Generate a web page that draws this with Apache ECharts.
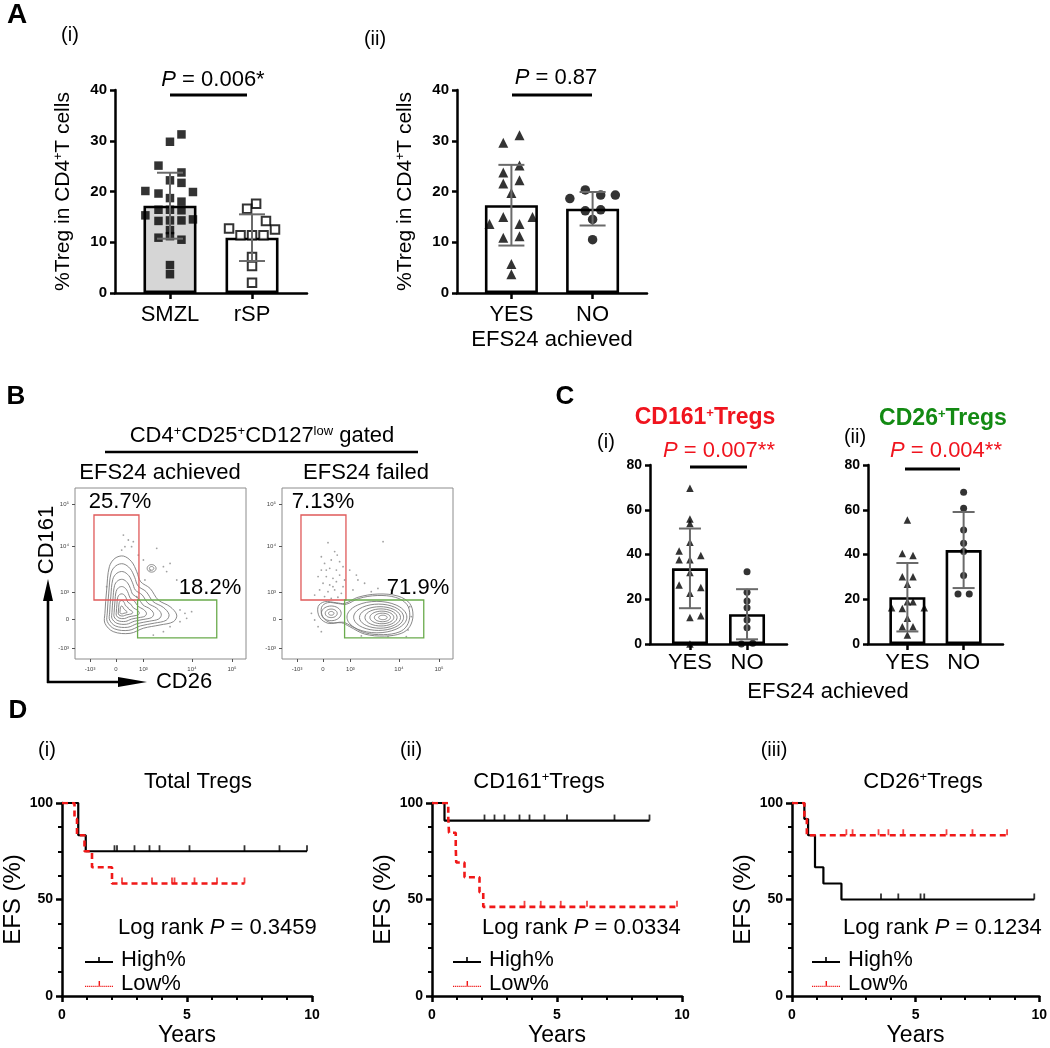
<!DOCTYPE html>
<html><head><meta charset="utf-8">
<script src="https://cdn.jsdelivr.net/npm/echarts@6/dist/echarts.min.js"></script>
<style>html,body{margin:0;padding:0;background:#fff}#c{width:1050px;height:1048px}</style>
</head><body><div id="c"></div>
<script>
// ================= DATA =================
// Panel A(i)
const aCatsI = ['SMZL', 'rSP'];
const aMeanI = [17.2, 10.9];
const aSdI = [6.5, 4.6];
const smzlVals = [31.25, 29.8, 25.1, 23.75, 22.2, 21.7, 20.1, 19.9, 19.6, 18.7, 18.0, 16.4, 16.4, 16.3, 15.3, 14.5, 14.2, 14.3, 14.3, 12.4, 10.9, 11.2, 10.5, 5.5, 3.7];
const smzlJit = [0.14, 0, -0.14, 0.14, 0, 0.14, -0.30, 0.28, -0.14, 0, 0.14, -0.14, 0, 0.14, -0.30, 0.28, -0.14, 0, 0.14, 0, -0.14, 0, 0.14, 0, 0];
const rspVals = [17.6, 16.6, 14.2, 12.7, 12.5, 11.4, 11.4, 11.4, 7.1, 5.3, 2.0];
const rspJit = [0.05, -0.06, 0.17, -0.28, 0.28, -0.14, 0, 0.14, 0, 0, 0];
// Panel A(ii)
const aCatsII = ['YES', 'NO'];
const aMeanII = [17.3, 16.6];
const aSdII = [7.95, 3.3];
const yesAVals = [31.1, 29.6, 25.1, 23.75, 21.6, 22.2, 19.7, 13.6, 15.0, 13.6, 15.0, 10.9, 11.2, 5.7, 3.7];
const yesAJit = [0.10, -0.10, 0.10, -0.10, -0.10, 0.10, 0, -0.27, -0.10, 0.10, 0.26, -0.10, 0.10, 0, 0];
const noAVals = [18.6, 20.3, 19.3, 19.3, 16.2, 16.4, 14.5, 10.5];
const noAJit = [-0.28, -0.09, 0.10, 0.28, -0.09, 0.10, 0, 0];
// Panel C(i) CD161+
const cMeanI = [33.8, 13.3];
const cSdI = [17.8, 11.2];
const cd161Yes = [69.6, 55.9, 53.9, 45.5, 41.6, 37.6, 39.5, 37.6, 32.0, 26.4, 25.2, 22.7, 11.8, 12.6, 0];
const cd161YesJit = [0, 0, 0, 0, -0.19, -0.19, 0.19, 0, 0, -0.19, 0.19, 0, 0, 0.19, 0];
const cd161No = [32.3, 23.1, 19.2, 16.2, 10.7, 7.3, 0, 0.3];
const cd161NoJit = [0, 0, 0, 0, 0, 0, -0.1, 0.1];
// Panel C(ii) CD26+
const cMeanII = [20.9, 42.0];
const cSdII = [15.3, 17.0];
const cd26Yes = [55.4, 40.5, 39.5, 30.1, 30.1, 26.7, 18.9, 16.2, 15.9, 18.9, 16.2, 11.5, 7.7, 7.7, 4.0];
const cd26YesJit = [0, -0.09, 0.10, -0.09, 0.10, 0, 0, -0.28, -0.09, 0.10, 0.30, 0, -0.09, 0.10, 0];
const cd26No = [67.8, 60.7, 51.0, 45.0, 41.3, 30.6, 22.4, 22.4];
const cd26NoJit = [0, 0, 0, 0, 0, 0, -0.10, 0.10];
// Panel B flow (display units 0-100)
const flowXTicks = [8.8, 24, 40, 68.4, 91.8];
const flowYTicks = [6.4, 23.4, 39.2, 66.1, 90.6];
const flowTickLabels = ['-10³', '0', '10³', '10⁴', '10⁵'];
const gates = [[11.1, 34.5, 37.4, 84.2], [36.6, 12.3, 82.9, 34.5]];
const pctLeft = ['25.7%', '18.2%'];
const pctRight = ['7.13%', '71.9%'];
const contourLeftOuter = [[17.5,26.7],[18.5,40.3],[20.1,54.0],[23.4,58.9],[28.3,60.2],[33.1,56.9],[36.1,51.1],[38.4,45.2],[43.9,41.3],[48.7,34.5],[55.6,30.6],[59.5,25.7],[57.5,21.8],[49.7,19.9],[40.0,18.0],[32.2,15.0],[22.4,16.0],[17.5,20.9]];
const contourLeftCenter = [27.3, 27.7];
const contourLeftScales = [1, 0.86, 0.72, 0.58, 0.45, 0.32, 0.2, 0.1];
const contourLeftBlobs = [[44.8, 53.0, 2.6, 2.2], [44.8, 53.0, 1.3, 1.1]];
const contourRightOuter = [[21.1,30.6],[24.9,33.5],[31.8,32.9],[36.7,32.5],[44.4,36.1],[56.1,38.0],[67.8,36.8],[74.7,32.5],[76.6,25.7],[74.7,18.9],[69.8,15.0],[60.0,13.4],[48.3,14.6],[39.6,18.9],[34.7,21.2],[26.9,20.9],[22.0,24.4]];
const contourRightCenter = [50, 25.5];
const contourRightScales = [1, 0.93];
const contourRightBlobs = [[28.8,26.7,5.8,4.3],[28.8,26.7,3.5,2.5],[28.8,26.7,1.6,1.1],
  [55.5,24.5,17.5,9.2],[56.5,24.4,14.6,7.7],[57.3,24.3,12.0,6.3],[57.9,24.3,9.4,5.0],[58.4,24.3,7.0,3.7],[58.7,24.3,4.7,2.5],[59,24.3,2.5,1.3]];
const flowDotsLeft = [[28.3,72.5],[31.2,69.6],[33.1,65.7],[27.3,63.7],[34.1,68.6],[29.2,65.7],[37.0,60.8],[40.0,57.9],[47.8,64.7],[51.7,54.0],[53.6,51.1],[59.5,46.2],[61.4,28.7],[64.3,26.7],[65.3,23.8],[61.4,21.8],[55.6,18.9],[51.7,16.0],[45.8,14.0],[36.1,36.4],[40.9,46.2],[18.5,42.3],[55.6,55.9],[68.2,27.7],[43.9,52.0]];
const flowDotsRight = [[26.9,68.0],[30.8,62.8],[32.3,60.8],[28.8,57.9],[24.9,55.9],[33.7,56.9],[23.0,52.0],[27.9,53.0],[31.8,52.0],[35.7,54.0],[21.1,48.2],[25.9,48.2],[29.8,47.2],[33.7,49.1],[24.0,44.3],[27.9,43.3],[31.8,45.2],[35.7,42.3],[22.0,40.4],[26.9,39.4],[30.8,40.4],[34.7,38.4],[24.9,36.5],[28.8,35.5],[32.7,36.1],[19.1,37.4],[36.6,46.2],[29.8,42.3],[25.9,52.0],[23.0,59.8],[39.6,52.0],[43.5,49.1],[44.4,46.2],[48.3,44.3],[41.5,40.4],[52.2,39.4],[59.1,68.6],[63.9,40.4],[56.1,41.3],[74.7,30.6],[75.6,24.8],[73.7,17.0],[72.7,13.1],[21.1,18.9],[19.1,22.8],[17.2,26.7],[23.0,16.0],[46.4,13.5],[62.0,13.1]];
// Panel D Kaplan-Meier: [years, EFS%]
const kmTotHigh = [[0,100],[0.65,83.3],[0.95,75],[9.8,75]];
const kmTotHighCens = [2.1, 2.2, 2.9, 3.5, 3.9, 5.1, 7.3, 8.7, 9.8];
const kmTotLow = [[0,100],[0.5,91.7],[0.6,83.3],[0.9,75],[1.2,66.7],[2.0,58.3],[7.3,58.3]];
const kmTotLowCens = [2.4, 3.6, 4.4, 4.5, 5.3, 6.2, 7.3];
const kmCd161High = [[0,100],[0.5,90.9],[8.7,90.9]];
const kmCd161HighCens = [2.1, 2.5, 2.9, 3.5, 3.9, 4.5, 5.4, 7.3, 8.7];
const kmCd161Low = [[0,100],[0.65,92.3],[0.68,84.6],[0.95,76.9],[0.97,69.2],[1.3,61.5],[1.9,53.8],[2.05,46.2],[9.8,46.2]];
const kmCd161LowCens = [3.7, 4.35, 5.15, 6.2, 9.8];
const kmCd26High = [[0,100],[0.5,91.7],[0.65,83.3],[0.93,66.7],[1.27,58.3],[2.0,50],[9.8,50]];
const kmCd26HighCens = [3.6, 4.3, 5.2, 5.35, 9.8];
const kmCd26Low = [[0,100],[0.5,91.7],[0.6,83.3],[8.7,83.3]];
const kmCd26LowCens = [2.2, 2.45, 3.5, 3.9, 4.5, 6.25, 7.3, 8.7];

// ================= STYLE =================
const FONT = 'Liberation Sans, Arial, Helvetica, sans-serif';
const RED = '#f0141e', GREEN = '#138a13', KMRED = '#f01818';

function rich(size, color, bold) {
  const w = bold ? 'bold' : 'normal';
  return {
    i: {fontStyle: 'italic', fontSize: size, fontFamily: FONT, color: color, fill: color, fontWeight: w},
    s: {fontSize: Math.round(size * 0.58), fontFamily: FONT, color: color, fill: color, fontWeight: w, verticalAlign: 'top', lineHeight: Math.round(size*0.6)}
  };
}
function txt(x, y, text, size, o) {
  o = o || {};
  const color = o.color || '#000';
  return {type: 'text', x: x, y: y, rotation: o.rot || 0, z: 100,
    style: {text: text, fill: color, fontSize: size, fontFamily: FONT, fontWeight: o.bold ? 'bold' : 'normal',
      align: o.align || 'center', verticalAlign: 'middle', rich: rich(size, color, o.bold)}};
}
function seg(x1, y1, x2, y2, w) {
  return {type: 'line', z: 100, shape: {x1, y1, x2, y2}, style: {stroke: '#000', lineWidth: w || 3}};
}

// ================= GRIDS & AXES =================
const grids = [
  {left: 115, top: 90, width: 192, height: 203},
  {left: 457, top: 90, width: 190, height: 203},
  {left: 75, top: 488, width: 171, height: 171, show: true, borderColor: '#8c8c8c', borderWidth: 1},
  {left: 282, top: 488, width: 171, height: 171, show: true, borderColor: '#8c8c8c', borderWidth: 1},
  {left: 650, top: 465, width: 137, height: 179},
  {left: 868, top: 465, width: 135, height: 179},
  {left: 62, top: 803, width: 250, height: 199},
  {left: 432, top: 803, width: 250, height: 199},
  {left: 792, top: 803, width: 248, height: 199}
];
const lineAx = {show: true, onZero: false, lineStyle: {color: '#000', width: 2.5}};
function catX(gi, cats, lo, hi, fs, margin) {
  return {gridIndex: gi, type: 'value', min: lo, max: hi,
    axisLine: lineAx, splitLine: {show: false},
    axisTick: {show: true, customValues: [0, 1], length: 6, lineStyle: {color: '#000', width: 2.5}},
    axisLabel: {customValues: [0, 1], formatter: v => cats[Math.round(v)], fontSize: fs, color: '#000', fontFamily: FONT, margin: margin}};
}
function valY(gi, max, interval, fs, name, nameGap) {
  return {gridIndex: gi, type: 'value', min: 0, max: max, interval: interval,
    axisLine: lineAx, splitLine: {show: false},
    axisTick: {show: true, length: 5, lineStyle: {color: '#000', width: 2.5}},
    axisLabel: {fontSize: fs, fontWeight: 'bold', color: '#000', fontFamily: FONT, margin: 8},
    name: name || '', nameLocation: 'middle', nameGap: nameGap || 0,
    nameTextStyle: {fontSize: 21, color: '#000', fontFamily: FONT, rich: rich(21, '#000')}};
}
function flowAx(gi, dim) {
  const ticks = dim === 'x' ? flowXTicks : flowYTicks;
  return {gridIndex: gi, type: 'value', min: 0, max: 100,
    axisLine: {show: false}, splitLine: {show: false},
    axisTick: {show: true, customValues: ticks, length: 3, lineStyle: {color: '#555', width: 1}},
    minorTick: {show: false},
    axisLabel: {customValues: ticks, formatter: v => flowTickLabels[ticks.indexOf(v)], fontSize: 6, color: '#444', fontFamily: FONT, margin: dim === 'x' ? 7 : 6}};
}
function kmX(gi) {
  return {gridIndex: gi, type: 'value', min: 0, max: 10, interval: 5,
    axisLine: lineAx, splitLine: {show: false},
    axisTick: {show: true, length: 6, lineStyle: {color: '#000', width: 2.5}},
    minorTick: {show: true, splitNumber: 5, length: 4, lineStyle: {color: '#000', width: 2}},
    axisLabel: {fontSize: 14, fontWeight: 'bold', color: '#000', fontFamily: FONT, margin: 12},
    name: 'Years', nameLocation: 'middle', nameGap: 28, nameTextStyle: {fontSize: 23, color: '#000', fontFamily: FONT}};
}
function kmY(gi) {
  return {gridIndex: gi, type: 'value', min: 0, max: 100, interval: 50,
    axisLine: lineAx, splitLine: {show: false},
    axisTick: {show: true, length: 6, lineStyle: {color: '#000', width: 2.5}},
    minorTick: {show: true, splitNumber: 4, length: 4, lineStyle: {color: '#000', width: 2}},
    axisLabel: {fontSize: 14, fontWeight: 'bold', color: '#000', fontFamily: FONT, margin: 9},
    name: 'EFS (%)', nameLocation: 'middle', nameGap: 33, nameTextStyle: {fontSize: 24, color: '#000', fontFamily: FONT}};
}
const yName = '%Treg in CD4{s|+}T cells';
const xAxes = [
  catX(0, aCatsI, -0.67, 1.67, 22, 11), catX(1, aCatsII, -0.67, 1.67, 22, 11),
  flowAx(2, 'x'), flowAx(3, 'x'),
  catX(4, aCatsII, -0.7, 1.7, 22, 8), catX(5, aCatsII, -0.7, 1.7, 22, 8),
  kmX(6), kmX(7), kmX(8)
];
const yAxes = [
  valY(0, 40, 10, 15, yName, 41), valY(1, 40, 10, 15, yName, 41),
  flowAx(2, 'y'), flowAx(3, 'y'),
  valY(4, 80, 20, 14), valY(5, 80, 20, 14),
  kmY(6), kmY(7), kmY(8)
];

// ================= SERIES BUILDERS =================
const series = [];
function barGroup(gi, means, sds, fills, barW, cap) {
  series.push({type: 'bar', xAxisIndex: gi, yAxisIndex: gi, barWidth: barW, z: 2, silent: true,
    data: means.map((m, i) => ({value: [i, m], itemStyle: {color: fills[i], borderColor: '#000', borderWidth: 2.6}}))});
  series.push({type: 'custom', xAxisIndex: gi, yAxisIndex: gi, z: 4, silent: true,
    data: means.map((m, i) => [i, m, sds[i]]), encode: {x: 0, y: 1},
    renderItem: function (params, api) {
      const x = api.value(0), m = api.value(1), s = api.value(2);
      const p1 = api.coord([x, m + s]), p0 = api.coord([x, m - s]);
      const st = {stroke: '#6a6a6a', lineWidth: 2};
      return {type: 'group', children: [
        {type: 'line', shape: {x1: p1[0], y1: p1[1], x2: p0[0], y2: p0[1]}, style: st},
        {type: 'line', shape: {x1: p1[0] - cap, y1: p1[1], x2: p1[0] + cap, y2: p1[1]}, style: st},
        {type: 'line', shape: {x1: p0[0] - cap, y1: p0[1], x2: p0[0] + cap, y2: p0[1]}, style: st}]};
    }});
}
function dots(gi, idx, vals, jit, symbol, size, open) {
  series.push({type: 'scatter', xAxisIndex: gi, yAxisIndex: gi, z: 3, silent: true,
    symbol: symbol, symbolSize: size,
    itemStyle: open ? {color: '#fff', borderColor: '#000', borderWidth: 2} : {color: '#000'},
    data: vals.map((v, i) => [idx + jit[i], v])});
}
// A(i)
barGroup(0, aMeanI, aSdI, ['#d6d6d6', '#fff'], 53, 13);
dots(0, 0, smzlVals, smzlJit, 'rect', 8.5, false);
dots(0, 1, rspVals, rspJit, 'rect', 8.5, true);
// A(ii)
barGroup(1, aMeanII, aSdII, ['#fff', '#fff'], 53, 13);
dots(1, 0, yesAVals, yesAJit, 'triangle', 10, false);
dots(1, 1, noAVals, noAJit, 'circle', 9.5, false);
// C(i)
barGroup(4, cMeanI, cSdI, ['#fff', '#fff'], 36, 11);
dots(4, 0, cd161Yes, cd161YesJit, 'triangle', 7.5, false);
dots(4, 1, cd161No, cd161NoJit, 'circle', 7, false);
// C(ii)
barGroup(5, cMeanII, cSdII, ['#fff', '#fff'], 36, 11);
dots(5, 0, cd26Yes, cd26YesJit, 'triangle', 7.5, false);
dots(5, 1, cd26No, cd26NoJit, 'circle', 7, false);

// Flow plots
function ellipse(cx, cy, rx, ry) {
  const pts = [];
  for (let k = 0; k < 36; k++) { const a = k / 36 * 2 * Math.PI; pts.push([cx + rx * Math.cos(a), cy + ry * Math.sin(a)]); }
  return pts;
}
function rings(base, center, scales, blobs) {
  const out = scales.map(s => base.map(p => [center[0] + (p[0] - center[0]) * s, center[1] + (p[1] - center[1]) * s]));
  blobs.forEach(b => out.push(ellipse(b[0], b[1], b[2], b[3])));
  return out;
}
function flowPlot(gi, ringList, dotList) {
  series.push({type: 'custom', xAxisIndex: gi, yAxisIndex: gi, silent: true, z: 2,
    data: ringList.map(r => [r[0][0], r[0][1]]), encode: {x: 0, y: 1},
    renderItem: function (params, api) {
      const pts = ringList[params.dataIndex].map(p => api.coord(p));
      return {type: 'polygon', shape: {points: pts, smooth: 0.35}, style: {fill: 'none', stroke: '#7a7a7a', lineWidth: 0.9}};
    }});
  series.push({type: 'scatter', xAxisIndex: gi, yAxisIndex: gi, silent: true, z: 2,
    symbolSize: 1.8, itemStyle: {color: '#8a8a8a'}, data: dotList});
  series.push({type: 'custom', xAxisIndex: gi, yAxisIndex: gi, silent: true, z: 3,
    data: gates, encode: {x: [0, 2], y: [1, 3]},
    renderItem: function (params, api) {
      const p0 = api.coord([api.value(0), api.value(3)]), p1 = api.coord([api.value(2), api.value(1)]);
      return {type: 'rect', shape: {x: p0[0], y: p0[1], width: p1[0] - p0[0], height: p1[1] - p0[1]},
        style: {fill: 'none', stroke: params.dataIndex === 0 ? '#e05a5a' : '#6aab4c', lineWidth: 1.3}};
    }});
}
flowPlot(2, rings(contourLeftOuter, contourLeftCenter, contourLeftScales, contourLeftBlobs), flowDotsLeft);
flowPlot(3, rings(contourRightOuter, contourRightCenter, contourRightScales, contourRightBlobs), flowDotsRight);

// KM
function survAt(km, t) { let s = km[0][1]; km.forEach(p => { if (p[0] <= t) s = p[1]; }); return s; }
function km(gi, data, cens, color, dashed, name) {
  series.push({type: 'line', name: name, xAxisIndex: gi, yAxisIndex: gi, step: 'end', data: data, symbol: 'none', z: dashed ? 4 : 3,
    lineStyle: {color: color, width: dashed ? 2.6 : 2.2, type: dashed ? [6, 4] : 'solid'}, itemStyle: {color: color}, silent: true});
  series.push({type: 'scatter', name: name + ' censored', xAxisIndex: gi, yAxisIndex: gi, silent: true, z: 5,
    symbol: 'rect', symbolSize: [1.8, 6], symbolOffset: [0, -3], itemStyle: {color: color},
    data: cens.map(t => [t, survAt(data, t)])});
}
km(6, kmTotHigh, kmTotHighCens, '#000', false, 'High%');
km(6, kmTotLow, kmTotLowCens, KMRED, true, 'Low%');
km(7, kmCd161High, kmCd161HighCens, '#000', false, 'High%');
km(7, kmCd161Low, kmCd161LowCens, KMRED, true, 'Low%');
km(8, kmCd26High, kmCd26HighCens, '#000', false, 'High%');
km(8, kmCd26Low, kmCd26LowCens, KMRED, true, 'Low%');

// legend icons: solid line with a small tick / dotted line with a small tick
const highIcon = 'path://M0,4h28v1.8h-28z M13.2,0h1.6v4h-1.6z';
let lowPath = 'path://';
for (let k = 0; k < 14; k++) lowPath += 'M' + (2 * k) + ',4.4h1.2v1.2h-' + '1.2z ';
lowPath += 'M13.2,0h1.4v4.4h-1.4z';
function legendAt(left) {
  return {left: left, top: 944, orient: 'vertical', itemWidth: 28, itemHeight: 6, itemGap: 2, selectedMode: false,
    data: [{name: 'High%', icon: highIcon, itemStyle: {color: '#000'}}, {name: 'Low%', icon: lowPath, itemStyle: {color: KMRED}}],
    textStyle: {fontSize: 22, color: '#000', fontFamily: FONT, padding: [0, 0, 0, 3]}};
}

// ================= GRAPHIC TEXT =================
const g = [
  txt(17, 15, 'A', 28, {bold: true}), txt(70, 35, '(i)', 20), txt(375, 39, '(ii)', 20),
  txt(213, 80, '{i|P} = 0.006*', 22), seg(170, 95, 247, 95),
  txt(556, 78, '{i|P} = 0.87', 22), seg(512, 95, 592, 95),
  txt(552, 340, 'EFS24 achieved', 22),
  txt(16, 397, 'B', 26, {bold: true}),
  txt(262, 436, 'CD4{s|+}CD25{s|+}CD127{s|low} gated', 22), seg(105, 452, 418, 452, 2.5),
  txt(160, 473, 'EFS24 achieved', 22), txt(366, 473, 'EFS24 failed', 22),
  txt(120, 502, pctLeft[0], 22), txt(210, 588, pctLeft[1], 22),
  txt(323, 502, pctRight[0], 22), txt(418, 588, pctRight[1], 22),
  txt(47, 540, 'CD161', 22, {rot: Math.PI / 2}), txt(184, 682, 'CD26', 22),
  seg(48, 683, 48, 596, 2.6), seg(47, 682, 122, 682, 2.6),
  {type: 'polygon', z: 100, shape: {points: [[48, 579], [43, 601], [53, 601]]}, style: {fill: '#000'}},
  {type: 'polygon', z: 100, shape: {points: [[147, 682], [118, 677], [118, 687]]}, style: {fill: '#000'}},
  txt(565, 397, 'C', 26, {bold: true}),
  txt(705, 418, 'CD161{s|+}Tregs', 23, {bold: true, color: RED}),
  txt(606, 442, '(i)', 20), txt(719, 451, '{i|P} = 0.007**', 22, {color: RED}), seg(690, 467, 747, 467),
  txt(943, 419, 'CD26{s|+}Tregs', 23, {bold: true, color: GREEN}),
  txt(855, 437, '(ii)', 20), txt(946, 451, '{i|P} = 0.004**', 22, {color: RED}), seg(905, 469, 960, 469),
  txt(828, 692, 'EFS24 achieved', 22),
  txt(18, 711, 'D', 26, {bold: true}),
  txt(47, 750, '(i)', 20), txt(411, 750, '(ii)', 20), txt(774, 750, '(iii)', 20),
  txt(198, 782, 'Total Tregs', 22), txt(539, 782, 'CD161{s|+}Tregs', 22), txt(923, 782, 'CD26{s|+}Tregs', 22),
  txt(118, 928, 'Log rank {i|P} = 0.3459', 22, {align: 'left'}),
  txt(482, 928, 'Log rank {i|P} = 0.0334', 22, {align: 'left'}),
  txt(843, 928, 'Log rank {i|P} = 0.1234', 22, {align: 'left'})
];

const chart = echarts.init(document.getElementById('c'), null, {renderer: 'canvas'});
chart.setOption({
  backgroundColor: '#fff', animation: false,
  textStyle: {fontFamily: FONT},
  grid: grids, xAxis: xAxes, yAxis: yAxes, series: series,
  legend: [legendAt(80), legendAt(448), legendAt(807)],
  graphic: {elements: g}
});
</script></body></html>
